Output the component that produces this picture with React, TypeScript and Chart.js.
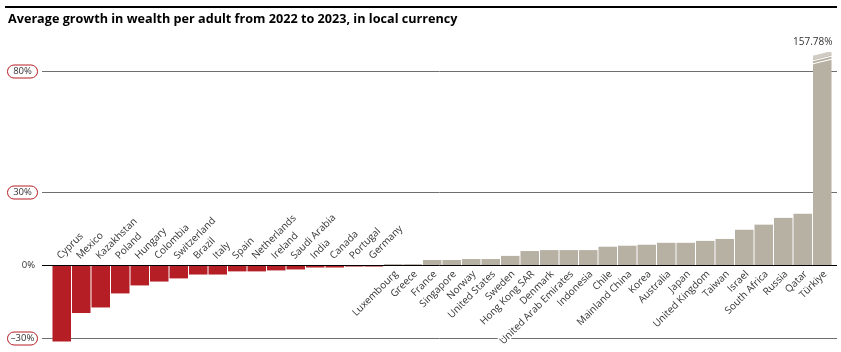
import React, { useEffect, useRef } from "react";
import { Chart, registerables } from "chart.js";

Chart.register(...registerables);

const TITLE = "Average growth in wealth per adult from 2022 to 2023, in local currency";

const categories = [
  "Cyprus", "Mexico", "Kazakhstan", "Poland", "Hungary", "Colombia", "Switzerland", "Brazil",
  "Italy", "Spain", "Netherlands", "Ireland", "Saudi Arabia", "India", "Canada", "Portugal",
  "Germany", "Luxembourg", "Greece", "France", "Singapore", "Norway", "United States", "Sweden",
  "Hong Kong SAR", "Denmark", "United Arab Emirates", "Indonesia", "Chile", "Mainland China",
  "Korea", "Australia", "Japan", "United Kingdom", "Taiwan", "Israel", "South Africa", "Russia",
  "Qatar", "Türkiye",
];

const growth = [
  -31.6, -19.8, -17.5, -11.7, -8.4, -6.8, -5.5, -3.9,
  -3.9, -2.6, -2.6, -2.2, -1.8, -1.0, -1.0, -0.6,
  -0.6, 0.4, 0.4, 2.1, 2.1, 2.5, 2.5, 3.8,
  5.8, 6.2, 6.2, 6.2, 7.6, 8.0,
  8.4, 9.2, 9.2, 10.0, 10.8, 14.6, 16.7, 19.5,
  21.2, 157.78,
];

const yTickValues = [-30, 0, 30, 80];
const yTickLabels = ["–30%", "0%", "30%", "80%"];
const brokenBarLabel = "157.78%";

const RED = "#B51E25";
const GREY = "#B7B1A3";
const LABEL_FONT = "10px 'Open Sans'";
const TICK_FONT = "9.5px 'Open Sans'";

export default function App() {
  const ref = useRef<HTMLCanvasElement | null>(null);

  useEffect(() => {
    document.body.style.margin = "0";
    const canvas = ref.current!;
    const deco = {
      id: "deco",
      beforeDraw(chart: any) {
        const ctx = chart.ctx;
        ctx.save();
        ctx.fillStyle = "#fff";
        ctx.fillRect(0, 0, chart.width, chart.height);
        ctx.strokeStyle = "#000";
        ctx.lineWidth = 2;
        ctx.beginPath();
        ctx.moveTo(5, 7);
        ctx.lineTo(837, 7);
        ctx.stroke();
        let size = 13;
        ctx.font = `bold ${size}px 'Open Sans'`;
        const w = ctx.measureText(TITLE).width;
        size = size * (450 / w);
        ctx.font = `bold ${size}px 'Open Sans'`;
        ctx.fillStyle = "#000";
        ctx.textBaseline = "middle";
        ctx.textAlign = "left";
        ctx.fillText(TITLE, 8, 19);
        ctx.restore();
      },
      beforeDatasetsDraw(chart: any) {
        const ctx = chart.ctx;
        const y = chart.scales.y;
        ctx.save();
        yTickValues.forEach((v, i) => {
          const py = Math.round(y.getPixelForValue(v)) + 0.5;
          if (v !== 0) {
            ctx.strokeStyle = "#6f6f6f";
            ctx.lineWidth = 1;
            ctx.beginPath();
            ctx.moveTo(42, py);
            ctx.lineTo(837, py);
            ctx.stroke();
            const x0 = 7.5, x1 = 37.5, h = 13, r = 6.5;
            ctx.beginPath();
            ctx.moveTo(x0 + r, py - h / 2);
            ctx.lineTo(x1 - r, py - h / 2);
            ctx.arc(x1 - r, py, r, -Math.PI / 2, Math.PI / 2);
            ctx.lineTo(x0 + r, py + h / 2);
            ctx.arc(x0 + r, py, r, Math.PI / 2, (3 * Math.PI) / 2);
            ctx.closePath();
            ctx.fillStyle = "#fff";
            ctx.fill();
            ctx.strokeStyle = RED;
            ctx.stroke();
            ctx.fillStyle = "#333";
            ctx.font = TICK_FONT;
            ctx.textAlign = "center";
            ctx.textBaseline = "middle";
            ctx.fillText(yTickLabels[i], (x0 + x1) / 2, py);
          } else {
            ctx.fillStyle = "#333";
            ctx.font = TICK_FONT;
            ctx.textAlign = "right";
            ctx.textBaseline = "middle";
            ctx.fillText(yTickLabels[i], 35, py);
          }
        });
        ctx.restore();
      },
      afterDatasetsDraw(chart: any) {
        const ctx = chart.ctx;
        const x = chart.scales.x;
        const y = chart.scales.y;
        const zero = Math.round(y.getPixelForValue(0)) + 0.5;
        ctx.save();
        ctx.strokeStyle = "#000";
        ctx.lineWidth = 1;
        ctx.beginPath();
        ctx.moveTo(42, zero);
        ctx.lineTo(837, zero);
        ctx.stroke();

        const meta = chart.getDatasetMeta(0);
        growth.forEach((v, i) => {
          if (v > y.max) {
            const bar = meta.data[i];
            const half = bar.width / 2;
            const l = bar.x - half - 1, r = bar.x + half + 1;
            const top = chart.chartArea.top;
            ctx.fillStyle = "#fff";
            ctx.beginPath();
            ctx.moveTo(l, top - 1);
            ctx.lineTo(r, top - 1);
            ctx.lineTo(l, top + 4);
            ctx.closePath();
            ctx.fill();
            ctx.fillStyle = "rgba(255,255,255,0.35)";
            ctx.beginPath();
            ctx.moveTo(l, top + 4);
            ctx.lineTo(r, top - 1);
            ctx.lineTo(r, top + 3);
            ctx.lineTo(l, top + 8);
            ctx.closePath();
            ctx.fill();
            ctx.strokeStyle = "#fff";
            ctx.lineWidth = 1.2;
            [9, 12].forEach((d) => {
              ctx.beginPath();
              ctx.moveTo(l, top + d);
              ctx.lineTo(r, top + d - 5);
              ctx.stroke();
            });
            ctx.fillStyle = "#333";
            ctx.font = "10px 'Open Sans'";
            ctx.textAlign = "right";
            ctx.textBaseline = "middle";
            ctx.fillText(brokenBarLabel, bar.x + half + 1, top - 10);
          }
        });

        ctx.font = LABEL_FONT;
        ctx.textBaseline = "middle";
        categories.forEach((c, i) => {
          const cx = x.getPixelForValue(i);
          ctx.save();
          if (growth[i] < 0) {
            ctx.translate(cx - 3, zero - 8);
            ctx.rotate(-Math.PI / 4);
            ctx.textAlign = "left";
          } else {
            ctx.translate(cx + 3, zero + 7);
            ctx.rotate(-Math.PI / 4);
            ctx.textAlign = "right";
          }
          ctx.strokeStyle = "#fff";
          ctx.lineWidth = 3;
          ctx.lineJoin = "round";
          ctx.strokeText(c, 0, 0);
          ctx.fillStyle = "#333";
          ctx.fillText(c, 0, 0);
          ctx.restore();
        });
        ctx.restore();
      },
    };

    const chart = new Chart(canvas, {
      type: "bar",
      data: {
        labels: categories,
        datasets: [
          {
            data: growth,
            backgroundColor: growth.map((v) => (v < 0 ? RED : GREY)),
            barPercentage: 0.95,
            categoryPercentage: 1,
            borderWidth: 0,
          },
        ],
      },
      options: {
        responsive: false,
        animation: false,
        layout: { padding: { left: 52, right: 9, top: 52, bottom: 7 } },
        scales: {
          x: { display: false },
          y: { display: false, min: -33, max: 88 },
        },
        plugins: {
          legend: { display: false },
          tooltip: { enabled: false },
          title: { display: false },
        },
      },
      plugins: [deco],
    });
    return () => chart.destroy();
  }, []);

  return (
    <div style={{ width: 841, height: 352 }}>
      <canvas ref={ref} width={841} height={352} style={{ display: "block" }} />
    </div>
  );
}
